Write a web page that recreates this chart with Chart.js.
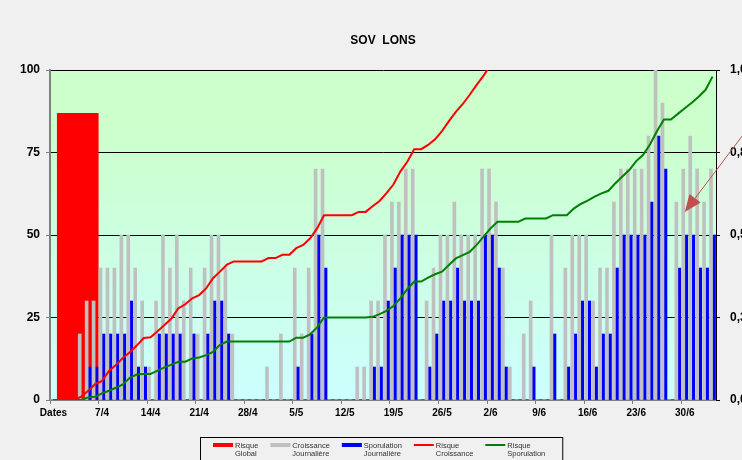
<!DOCTYPE html>
<html>
<head>
<meta charset="utf-8">
<script src="https://cdn.jsdelivr.net/npm/chart.js@4/dist/chart.umd.min.js"></script>
<style>
  html, body { margin: 0; padding: 0; background: #F0F0F0; }
  #wrap { width: 742px; height: 460px; }
</style>
</head>
<body>
<div id="wrap"><canvas id="chartSov"></canvas></div>
<script>
// jours du 31/3 au 4/7
const dates = [];
for (let d = new Date(2000, 2, 31); dates.length < 96; d.setDate(d.getDate() + 1)) {
    dates.push(d.getDate() + '/' + (d.getMonth() + 1));
}
const tickDates = ['7/4', '14/4', '21/4', '28/4', '5/5', '12/5', '19/5', '26/5', '2/6', '9/6', '16/6', '23/6', '30/6'];
const xTitle = 'Dates';

const risqueGlobal = [87];

const croissanceJour = [
    0, 0, 0, 0, 20, 30, 30, 40, 40, 40,
    50, 50, 40, 30, 10, 30, 50, 40, 50, 30,
    40, 20, 40, 50, 50, 40, 20, 0, 0, 0,
    0, 10, 0, 20, 0, 40, 20, 40, 70, 70,
    0, 0, 0, 0, 10, 10, 30, 30, 50, 60,
    60, 70, 70, 0, 30, 40, 50, 50, 60, 50,
    50, 50, 70, 70, 60, 40, 10, 0, 20, 30,
    0, 0, 50, 0, 40, 50, 50, 50, 30, 40,
    40, 60, 70, 70, 70, 70, 80, 100, 90, 0,
    60, 70, 80, 70, 60, 70
];

const sporulationJour = [
    0, 0, 0, 0, 0, 10, 10, 20, 20, 20,
    20, 30, 10, 10, 0, 20, 20, 20, 20, 0,
    20, 0, 20, 30, 30, 20, 0, 0, 0, 0,
    0, 0, 0, 0, 0, 10, 0, 20, 50, 40,
    0, 0, 0, 0, 0, 0, 10, 10, 30, 40,
    50, 50, 50, 0, 10, 20, 30, 30, 40, 30,
    30, 30, 50, 50, 40, 10, 0, 0, 0, 10,
    0, 0, 20, 0, 10, 20, 30, 30, 10, 20,
    20, 40, 50, 50, 50, 50, 60, 80, 70, 0,
    40, 50, 50, 40, 40, 50
];

// sort du graphique apres le 2/6
const risqueCroissance = [
    0, 0, 0, 0, 1, 2.8, 4.8, 5.8, 8.8, 10.6,
    12.7, 14.5, 16.5, 18.8, 19, 20.8, 22.7, 24.7, 27.8, 29,
    30.8, 31.8, 33.8, 36.9, 38.9, 41, 42, 42, 42, 42,
    42, 43, 43, 44, 44, 46, 47, 49, 52, 56,
    56, 56, 56, 56, 57, 57, 58.7, 60.3, 62.7, 65.3,
    69.2, 72.2, 76, 76, 77.3, 79, 81.5, 84.5, 87.3, 89.7,
    92.5, 95.5, 98.3, 101.5, 104
];

const risqueSporulation = [
    0, 0, 0, 0, 0, 0.8, 1, 2, 2.8, 3.7,
    4.7, 6.7, 7.7, 7.9, 7.9, 8.9, 9.9, 10.7, 11.6, 11.6,
    12.6, 12.9, 13.6, 14.6, 16.7, 17.7, 17.7, 17.7, 17.7, 17.7,
    17.7, 17.7, 17.7, 17.7, 17.7, 18.9, 18.9, 19.9, 22, 25,
    25, 25, 25, 25, 25, 25, 25.2, 26, 27, 28.5,
    30.8, 33.6, 35.9, 35.9, 37.1, 38.1, 38.9, 40.9, 42.9, 43.9,
    44.9, 47, 49.5, 52, 54, 54, 54, 54, 55, 55,
    55, 55, 56, 56, 56, 58, 59.4, 60.4, 61.6, 62.6,
    63.4, 65.7, 67.7, 69.7, 72.4, 74.3, 77.5, 81.5, 85, 85,
    86.7, 88.4, 90.1, 91.9, 94, 98
];

// la barre "Risque Global" occupe la premiere des 12 cases de l'axe secondaire
const globalSlots = ['Global', '', '', '', '', '', '', '', '', '', '', ''];

// fleche : pointe et queue en (jour, valeur)
const flechePointe = { index: 91, valeur: 57 };
const flecheQueue = { index: 100, valeur: 82 };

Chart.defaults.font.family = '"Liberation Sans", Arial, sans-serif';

const fondPlugin = {
    id: 'fond',
    beforeDraw(chart) {
        const { ctx, chartArea: a } = chart;
        ctx.save();
        ctx.fillStyle = '#F0F0F0';
        ctx.fillRect(0, 0, chart.width, chart.height);
        const g = ctx.createLinearGradient(0, a.top, 0, a.bottom);
        g.addColorStop(0, '#CCFFCC');
        g.addColorStop(0.2, '#CCFFCC');
        g.addColorStop(1, '#CCFFFF');
        ctx.fillStyle = g;
        ctx.fillRect(a.left, a.top, a.width, a.height);
        ctx.restore();
    }
};

const flechePlugin = {
    id: 'fleche',
    afterDatasetsDraw(chart) {
        const { ctx, scales: { x, y } } = chart;
        const tx = x.getPixelForValue(flechePointe.index), ty = y.getPixelForValue(flechePointe.valeur);
        const qx = x.getPixelForValue(flecheQueue.index), qy = y.getPixelForValue(flecheQueue.valeur);
        const ang = Math.atan2(ty - qy, tx - qx);
        const len = 17, half = 7;
        const bx = tx - len * Math.cos(ang), by = ty - len * Math.sin(ang);
        ctx.save();
        ctx.strokeStyle = '#C0504D';
        ctx.fillStyle = '#C0504D';
        ctx.lineWidth = 1;
        ctx.beginPath();
        ctx.moveTo(qx, qy);
        ctx.lineTo(bx, by);
        ctx.stroke();
        ctx.beginPath();
        ctx.moveTo(tx, ty);
        ctx.lineTo(bx + half * Math.sin(ang), by - half * Math.cos(ang));
        ctx.lineTo(bx - half * Math.sin(ang), by + half * Math.cos(ang));
        ctx.closePath();
        ctx.fill();
        ctx.restore();
    }
};

const legendePlugin = {
    id: 'legende',
    afterDraw(chart) {
        const { ctx, chartArea: a } = chart;
        ctx.save();
        ctx.font = '7.5px "Liberation Sans", Arial, sans-serif';
        const items = chart.data.datasets.map(ds => {
            const lignes = ds.label.split('\n');
            const w = Math.max(...lignes.map(l => ctx.measureText(l).width));
            return { ds, lignes, w };
        });
        const swatch = 20, gap = 2, espace = 12;
        const total = items.reduce((s, it) => s + swatch + gap + it.w, 0) + espace * (items.length - 1);
        const boxW = total + 30;
        const boxLeft = Math.round((a.left + a.right) / 2 - boxW / 2) - 2;
        const top = a.bottom + 37;
        ctx.strokeStyle = '#000';
        ctx.lineWidth = 1;
        ctx.strokeRect(boxLeft + 0.5, top + 0.5, boxW, 40);
        let x = boxLeft + 13;
        const ySw = top + 8;
        items.forEach(it => {
            if (it.ds.type === 'line') {
                ctx.strokeStyle = it.ds.borderColor;
                ctx.lineWidth = 2;
                ctx.beginPath();
                ctx.moveTo(x, ySw);
                ctx.lineTo(x + swatch, ySw);
                ctx.stroke();
            } else {
                ctx.fillStyle = it.ds.backgroundColor;
                ctx.fillRect(x, ySw - 2, swatch, 4);
            }
            ctx.fillStyle = '#333';
            ctx.textBaseline = 'middle';
            ctx.textAlign = 'left';
            it.lignes.forEach((l, k) => ctx.fillText(l, x + swatch + gap, top + 8.7 + k * 7.8));
            x += swatch + gap + it.w + espace;
        });
        ctx.restore();
    }
};

document.addEventListener('DOMContentLoaded', () => {
    const ctx = document.getElementById('chartSov');

    new Chart(ctx, {
        type: 'bar',
        data: {
            labels: dates,
            datasets: [
                {
                    label: 'Risque\nGlobal',
                    data: risqueGlobal,
                    backgroundColor: '#FF0000',
                    xAxisID: 'x2',
                    yAxisID: 'y',
                    grouped: false,
                    barPercentage: 0.75,
                    categoryPercentage: 1,
                    order: 3
                },
                {
                    label: 'Croissance\nJournalière',
                    data: croissanceJour,
                    backgroundColor: '#C0C0C0',
                    barThickness: 3,
                    order: 2
                },
                {
                    label: 'Sporulation\nJournalière',
                    data: sporulationJour,
                    backgroundColor: '#0000FF',
                    barThickness: 3,
                    order: 2
                },
                {
                    type: 'line',
                    label: 'Risque\nCroissance',
                    data: risqueCroissance,
                    borderColor: '#FF0000',
                    borderWidth: 2,
                    pointRadius: 0,
                    tension: 0,
                    order: 1
                },
                {
                    type: 'line',
                    label: 'Risque\nSporulation',
                    data: risqueSporulation,
                    borderColor: '#008000',
                    borderWidth: 2,
                    pointRadius: 0,
                    tension: 0,
                    order: 0
                }
            ]
        },
        options: {
            responsive: true,
            maintainAspectRatio: false,
            animation: false,
            layout: { padding: 0 },
            plugins: {
                legend: { display: false },
                tooltip: { enabled: false },
                title: {
                    display: true,
                    fullSize: false,
                    text: 'SOV  LONS',
                    color: '#000',
                    font: { size: 12, weight: 'bold' },
                    padding: { top: 33, bottom: 22.6 }
                }
            },
            scales: {
                x: {
                    type: 'category',
                    offset: true,
                    grid: {
                        offset: true,
                        drawOnChartArea: false,
                        tickLength: 4,
                        tickColor: c => (c.index % 7 === 0 ? '#808080' : 'rgba(0,0,0,0)')
                    },
                    border: { color: '#808080', width: 2 },
                    ticks: {
                        autoSkip: false,
                        maxRotation: 0,
                        padding: 3,
                        color: '#000',
                        font: { size: 10, weight: 'bold' },
                        callback: (v, i) => (i === 0 ? xTitle : (tickDates.includes(dates[i]) ? dates[i] : ''))
                    },
                    afterFit: s => { s.height = 60; }
                },
                x2: {
                    type: 'category',
                    labels: globalSlots,
                    offset: true,
                    display: false
                },
                y: {
                    position: 'left',
                    min: 0,
                    max: 100,
                    ticks: { stepSize: 25, padding: 6, color: '#000', font: { size: 12, weight: 'bold' } },
                    grid: {
                        color: c => (c.tick.value === 0 ? '#808080' : '#000'),
                        tickColor: '#808080',
                        tickLength: 4
                    },
                    border: { color: '#808080', width: 2 },
                    afterFit: s => { s.width = 50; }
                },
                y2: {
                    position: 'right',
                    min: 0,
                    max: 1,
                    ticks: {
                        stepSize: 0.25,
                        padding: 10,
                        color: '#000',
                        font: { size: 12, weight: 'bold' },
                        callback: v => v.toFixed(1).replace('.', ',')
                    },
                    grid: { drawOnChartArea: false, tickLength: 4, tickColor: '#000' },
                    border: { color: '#000', width: 1 },
                    afterFit: s => { s.width = 26; }
                }
            }
        },
        plugins: [fondPlugin, flechePlugin, legendePlugin]
    });
});
</script>
</body>
</html>
